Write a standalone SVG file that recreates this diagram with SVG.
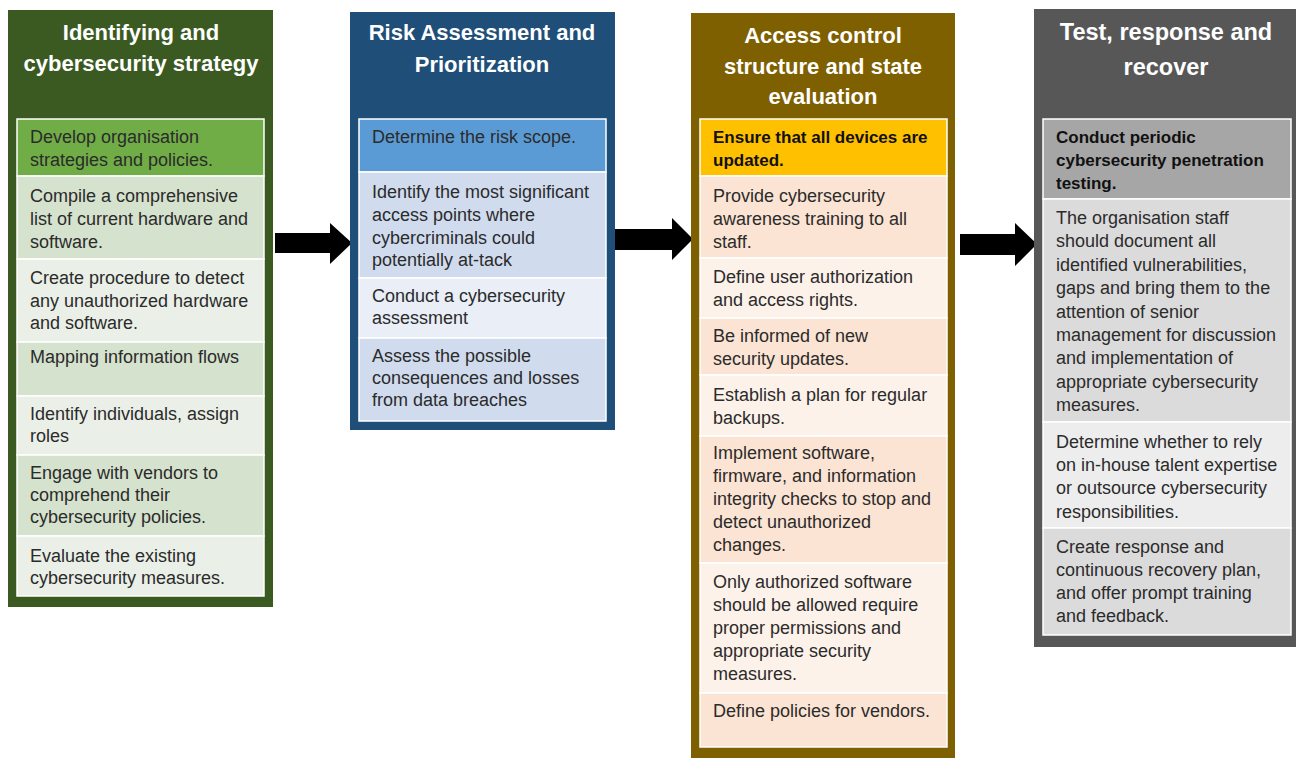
<svg xmlns="http://www.w3.org/2000/svg" width="1296" height="758" viewBox="0 0 1296 758">
<style>
.title{font-family:"Liberation Sans",Arial,sans-serif;font-weight:bold;font-size:22px;fill:#ffffff;text-anchor:middle}
.t4{font-size:23.5px}
.body{font-family:"Liberation Sans",Arial,sans-serif;font-size:18px;fill:#2b2b2b}
.bold{font-weight:bold;font-size:17px;fill:#111111}
.row{stroke:#ffffff;stroke-width:1.5}
</style>
<rect width="1296" height="758" fill="#ffffff"/>
<g id="connectors" fill="#000000">
<polygon points="275,233 330,233 330,223 352,243 330,264 330,253 275,253"/>
<polygon points="615,229 672,229 672,218 693,239 672,260 672,250 615,250"/>
<polygon points="960,234 1015,234 1015,223 1037,244 1015,266 1015,255 960,255"/>
</g>
<g id="col1">
<rect x="8" y="10" width="265" height="597" fill="#3a5a22"/>
<text class="title" x="141" y="40">Identifying and</text>
<text class="title" x="141" y="71">cybersecurity  strategy</text>
<rect class="row" x="17" y="119" width="247" height="57" fill="#70ad47"/>
<rect class="row" x="17" y="176" width="247" height="83" fill="#d5e2cd"/>
<rect class="row" x="17" y="259" width="247" height="83" fill="#eaf0e7"/>
<rect class="row" x="17" y="342" width="247" height="54" fill="#d5e2cd"/>
<rect class="row" x="17" y="396" width="247" height="59" fill="#eaf0e7"/>
<rect class="row" x="17" y="455" width="247" height="81" fill="#d5e2cd"/>
<rect class="row" x="17" y="536" width="247" height="60" fill="#eaf0e7"/>
<text class="body" x="30" y="143">Develop organisation</text>
<text class="body" x="30" y="166">strategies and policies.</text>
<text class="body" x="30" y="202">Compile a comprehensive</text>
<text class="body" x="30" y="225">list of current  hardware and</text>
<text class="body" x="30" y="248">software.</text>
<text class="body" x="30" y="284">Create procedure  to detect</text>
<text class="body" x="30" y="307">any unauthorized  hardware</text>
<text class="body" x="30" y="329">and software.</text>
<text class="body" x="30" y="363">Mapping information flows</text>
<text class="body" x="30" y="420">Identify individuals, assign</text>
<text class="body" x="30" y="442">roles</text>
<text class="body" x="30" y="479">Engage with vendors to</text>
<text class="body" x="30" y="501">comprehend  their</text>
<text class="body" x="30" y="523">cybersecurity policies.</text>
<text class="body" x="30" y="562">Evaluate the existing</text>
<text class="body" x="30" y="584">cybersecurity measures.</text>
</g>
<g id="col2">
<rect x="350" y="12" width="265" height="418" fill="#1f4e79"/>
<text class="title" x="482" y="40">Risk Assessment  and</text>
<text class="title" x="482" y="72">Prioritization</text>
<rect class="row" x="359" y="119" width="247" height="53" fill="#5b9bd5"/>
<rect class="row" x="359" y="172" width="247" height="106" fill="#d0dcee"/>
<rect class="row" x="359" y="278" width="247" height="60" fill="#e9eef7"/>
<rect class="row" x="359" y="338" width="247" height="83" fill="#d0dcee"/>
<text class="body" x="372" y="143">Determine  the risk scope.</text>
<text class="body" x="372" y="198">Identify the most significant</text>
<text class="body" x="372" y="221">access points where</text>
<text class="body" x="372" y="244">cybercriminals could</text>
<text class="body" x="372" y="266">potentially at-tack</text>
<text class="body" x="372" y="302">Conduct  a cybersecurity</text>
<text class="body" x="372" y="324">assessment</text>
<text class="body" x="372" y="362">Assess the possible</text>
<text class="body" x="372" y="384">consequences and losses</text>
<text class="body" x="372" y="406">from data breaches</text>
</g>
<g id="col3">
<rect x="691" y="13" width="264" height="745" fill="#7f6000"/>
<text class="title" x="823" y="43">Access control</text>
<text class="title" x="823" y="74">structure  and  state</text>
<text class="title" x="823" y="104">evaluation</text>
<rect class="row" x="700" y="119" width="247" height="57" fill="#ffc000"/>
<rect class="row" x="700" y="176" width="247" height="82" fill="#fbe4d3"/>
<rect class="row" x="700" y="258" width="247" height="60" fill="#fdf2ea"/>
<rect class="row" x="700" y="318" width="247" height="57" fill="#fbe4d3"/>
<rect class="row" x="700" y="375" width="247" height="61" fill="#fdf2ea"/>
<rect class="row" x="700" y="436" width="247" height="127" fill="#fbe4d3"/>
<rect class="row" x="700" y="563" width="247" height="130" fill="#fdf2ea"/>
<rect class="row" x="700" y="693" width="247" height="54" fill="#fbe4d3"/>
<text class="body bold" x="713" y="143">Ensure that all devices are</text>
<text class="body bold" x="713" y="166">updated.</text>
<text class="body" x="713" y="202">Provide  cybersecurity</text>
<text class="body" x="713" y="225">awareness training to all</text>
<text class="body" x="713" y="248">staff.</text>
<text class="body" x="713" y="283">Define user authorization</text>
<text class="body" x="713" y="306">and access rights.</text>
<text class="body" x="713" y="342">Be informed  of new</text>
<text class="body" x="713" y="365">security updates.</text>
<text class="body" x="713" y="401">Establish a plan for regular</text>
<text class="body" x="713" y="424">backups.</text>
<text class="body" x="713" y="459">Implement  software,</text>
<text class="body" x="713" y="482">firmware,  and information</text>
<text class="body" x="713" y="505">integrity checks to stop and</text>
<text class="body" x="713" y="528">detect unauthorized</text>
<text class="body" x="713" y="551">changes.</text>
<text class="body" x="713" y="588">Only authorized  software</text>
<text class="body" x="713" y="611">should be allowed require</text>
<text class="body" x="713" y="634">proper  permissions and</text>
<text class="body" x="713" y="657">appropriate  security</text>
<text class="body" x="713" y="680">measures.</text>
<text class="body" x="713" y="717">Define policies for vendors.</text>
</g>
<g id="col4">
<rect x="1034" y="9" width="262" height="638" fill="#575757"/>
<text class="title t4" x="1166" y="40">Test, response and</text>
<text class="title t4" x="1166" y="75">recover</text>
<rect class="row" x="1043" y="119" width="248" height="80" fill="#a6a6a6"/>
<rect class="row" x="1043" y="199" width="248" height="223" fill="#dbdbdb"/>
<rect class="row" x="1043" y="422" width="248" height="106" fill="#ededed"/>
<rect class="row" x="1043" y="528" width="248" height="107" fill="#dbdbdb"/>
<text class="body bold" x="1056" y="143">Conduct periodic</text>
<text class="body bold" x="1056" y="166">cybersecurity penetration</text>
<text class="body bold" x="1056" y="189">testing.</text>
<text class="body" x="1056" y="224">The organisation staff</text>
<text class="body" x="1056" y="247">should document  all</text>
<text class="body" x="1056" y="271">identified vulnerabilities,</text>
<text class="body" x="1056" y="294">gaps and bring them to the</text>
<text class="body" x="1056" y="318">attention of senior</text>
<text class="body" x="1056" y="341">management for discussion</text>
<text class="body" x="1056" y="364">and implementation  of</text>
<text class="body" x="1056" y="388">appropriate  cybersecurity</text>
<text class="body" x="1056" y="411">measures.</text>
<text class="body" x="1056" y="448">Determine  whether to rely</text>
<text class="body" x="1056" y="471">on in-house talent expertise</text>
<text class="body" x="1056" y="494">or outsource  cybersecurity</text>
<text class="body" x="1056" y="518">responsibilities.</text>
<text class="body" x="1056" y="553">Create  response and</text>
<text class="body" x="1056" y="576">continuous  recovery plan,</text>
<text class="body" x="1056" y="599">and offer prompt  training</text>
<text class="body" x="1056" y="622">and feedback.</text>
</g>
</svg>
